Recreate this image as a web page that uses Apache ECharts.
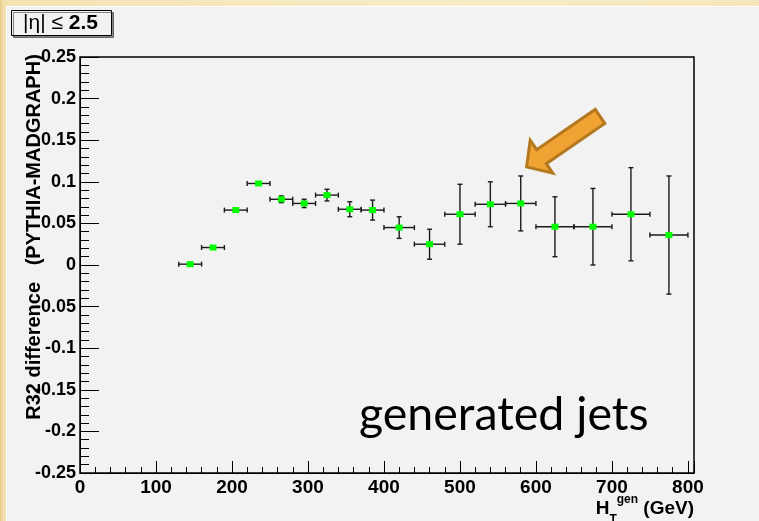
<!DOCTYPE html>
<html>
<head>
<meta charset="utf-8">
<script src="https://cdn.jsdelivr.net/npm/echarts@6/dist/echarts.min.js"></script>
<style>
  html, body { margin: 0; padding: 0; }
  body {
    width: 759px; height: 521px; position: relative; overflow: hidden;
    background: linear-gradient(90deg, #e9cc88 0px, #f4e2b2 4px, #f8ecc8 60%, #f6e6bc 100%);
  }
  #panel {
    position: absolute; left: 6px; top: 6px; right: 0; bottom: 0;
    background: #f2f2f2; border-left: 1px solid #fff; border-top: 1px solid #fff;
  }
  #chart { position: absolute; left: 0; top: 0; width: 759px; height: 521px; }
</style>
</head>
<body>
<div id="panel"></div>
<div id="chart"></div>
<script>
// HT bins (GeV): centre and half width
const htCenters = [145, 175, 205, 235, 265, 295, 325, 355, 385, 420, 460, 500, 540, 580, 625, 675, 725, 775];
const htHalfWidths = [15, 15, 15, 15, 15, 15, 15, 15, 15, 20, 20, 20, 20, 20, 25, 25, 25, 25];
// R32 difference PYTHIA - MADGRAPH and its error
const r32Diff = [0.001, 0.021, 0.066, 0.098, 0.079, 0.074, 0.084, 0.067, 0.066, 0.045, 0.025, 0.061, 0.073, 0.074, 0.046, 0.046, 0.061, 0.036];
const r32Err = [0.002, 0.002, 0.002, 0.002, 0.004, 0.005, 0.007, 0.009, 0.012, 0.013, 0.018, 0.036, 0.027, 0.033, 0.036, 0.046, 0.056, 0.071];

const font = '"Liberation Sans", Arial, Helvetica, sans-serif';
const points = htCenters.map((x, i) => [x, r32Diff[i], htHalfWidths[i], r32Err[i]]);

// error bars with small end caps, ROOT style
function renderErrorBar(params, api) {
  const x = api.value(0), y = api.value(1), dx = api.value(2), dy = api.value(3);
  const l = api.coord([x - dx, y]);
  const r = api.coord([x + dx, y]);
  const t = api.coord([x, y + dy]);
  const b = api.coord([x, y - dy]);
  const cap = 2.5;
  const style = { stroke: '#1a1a1a', lineWidth: 1.4 };
  const line = (x1, y1, x2, y2) => ({ type: 'line', shape: { x1, y1, x2, y2 }, style });
  return {
    type: 'group',
    children: [
      line(l[0], l[1], r[0], r[1]),
      line(l[0], l[1] - cap, l[0], l[1] + cap),
      line(r[0], r[1] - cap, r[0], r[1] + cap),
      line(t[0], t[1], b[0], b[1]),
      line(t[0] - cap, t[1], t[0] + cap, t[1]),
      line(b[0] - cap, b[1], b[0] + cap, b[1])
    ]
  };
}

const chart = echarts.init(document.getElementById('chart'));
const option = {
  animation: false,
  backgroundColor: 'transparent',
  title: [
    {
      text: '{n||η| ≤ }{b|2.5}',
      left: 11, top: 10,
      padding: [3, 14, 2, 12],
      borderColor: '#000', borderWidth: 1,
      backgroundColor: '#f2f2f2',
      shadowColor: 'rgba(0,0,0,0.45)', shadowOffsetX: 2, shadowOffsetY: 2,
      textStyle: {
        fontWeight: 'normal',
        rich: {
          n: { fontFamily: font, fontSize: 21, fontWeight: 'normal', color: '#000' },
          b: { fontFamily: font, fontSize: 21, fontWeight: 'bold', color: '#000' }
        }
      }
    },
    {
      text: 'generated jets',
      left: 359, top: 391, padding: 0,
      textStyle: { fontFamily: 'Lato', fontSize: 46.5, fontWeight: 'normal', color: '#000' }
    }
  ],
  grid: {
    left: 80, top: 57, right: 65, bottom: 48,
    show: true, borderColor: '#000', borderWidth: 1.5,
    backgroundColor: 'transparent',
    outerBoundsMode: 'none'
  },
  xAxis: {
    type: 'value', min: 0, max: 808, interval: 100,
    name: '{h|H}{sub|T}{sup|gen}{h| (GeV)}',
    nameLocation: 'end', nameGap: 0, nameMoveOverlap: false,
    nameTextStyle: {
      align: 'right', verticalAlign: 'top', padding: [21, 0, 0, 0],
      rich: {
        h: { fontFamily: font, fontSize: 19, fontWeight: 'bold', color: '#000', lineHeight: 20, padding: [5, 0, 0, 0], verticalAlign: 'top' },
        sup: { fontFamily: font, fontSize: 12, fontWeight: 'bold', color: '#000', lineHeight: 12, padding: [0, 0, 10, 0], verticalAlign: 'top' },
        sub: { fontFamily: font, fontSize: 12, fontWeight: 'bold', color: '#000', lineHeight: 12, padding: [20, 0, 0, 0], verticalAlign: 'top' }
      }
    },
    axisLine: { show: true, onZero: false, lineStyle: { color: '#000', width: 1 } },
    axisTick: { show: true, inside: true, length: 12, lineStyle: { color: '#000' } },
    minorTick: { show: true, splitNumber: 5, length: 6, lineStyle: { color: '#000' } },
    axisLabel: { fontFamily: font, fontSize: 19, fontWeight: 'bold', color: '#000', margin: 5, showMaxLabel: false },
    splitLine: { show: false }
  },
  yAxis: {
    type: 'value', min: -0.25, max: 0.25, interval: 0.05,
    name: 'R32 difference   (PYTHIA-MADGRAPH)',
    nameLocation: 'middle', nameGap: 36, nameRotate: 90, nameMoveOverlap: false,
    nameTextStyle: { fontFamily: font, fontSize: 20, fontWeight: 'bold', color: '#000', padding: [0, 0, 0, 56] },
    axisLine: { show: true, onZero: false, lineStyle: { color: '#000', width: 1 } },
    axisTick: { show: true, inside: true, length: 19, lineStyle: { color: '#000' } },
    minorTick: { show: true, splitNumber: 5, length: 9, lineStyle: { color: '#000' } },
    axisLabel: { fontFamily: font, fontSize: 18, fontWeight: 'bold', color: '#000', margin: 4 },
    splitLine: { show: false }
  },
  series: [
    {
      type: 'custom',
      renderItem: renderErrorBar,
      data: points,
      z: 2
    },
    {
      type: 'scatter',
      data: points.map(p => [p[0], p[1]]),
      symbol: 'rect',
      symbolSize: [7, 6],
      itemStyle: { color: '#00ff00', opacity: 1 },
      z: 3
    }
  ],
  graphic: [
    {
      type: 'polygon',
      shape: {
        points: [[526.6, 166.9], [530.2, 140.2], [536.7, 149.7], [595.2, 109.4],
                 [604.8, 123.4], [546.3, 163.7], [552.8, 173.2]]
      },
      style: { fill: '#f0a232', stroke: '#b4781e', lineWidth: 3, lineJoin: 'miter' },
      z: 10
    }
  ]
};
chart.setOption(option);
</script>
</body>
</html>
